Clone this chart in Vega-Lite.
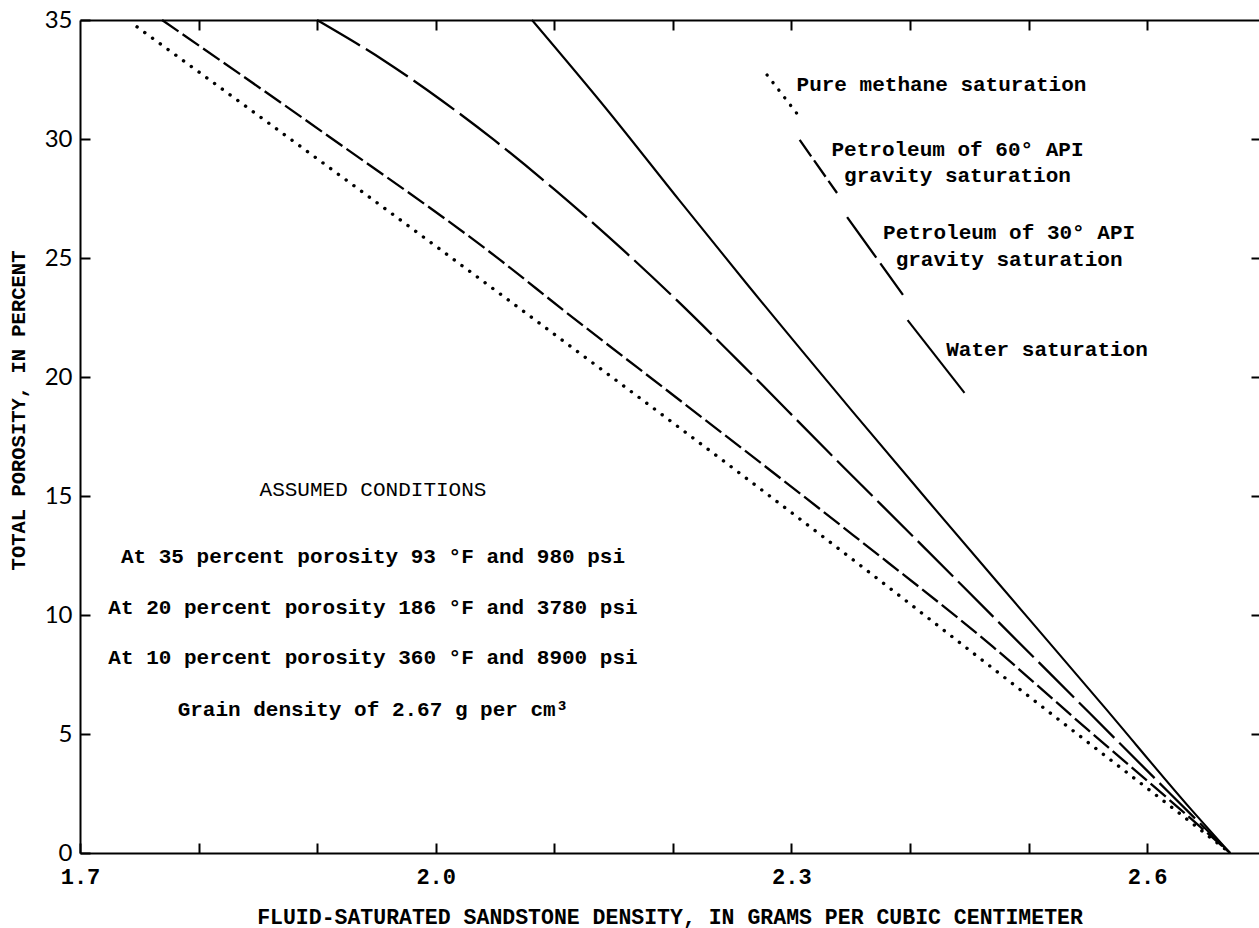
{
  "$schema": "https://vega.github.io/schema/vega-lite/v6.json",
  "width": 1179,
  "height": 833,
  "autosize": {"type": "none"},
  "padding": {"left": 80, "top": 20, "right": 0, "bottom": 75},
  "background": "white",
  "config": {
    "view": {"stroke": null},
    "axis": {"grid": false, "domainColor": "black", "tickColor": "black", "domainWidth": 2, "tickWidth": 2, "labelColor": "black", "titleColor": "black"}
  },
  "datasets": {
    "curves": [
      {"series": "methane", "part": "curve", "density": 1.7481, "porosity": 34.71},
      {"series": "methane", "part": "curve", "density": 1.8670, "porosity": 30.38},
      {"series": "methane", "part": "curve", "density": 1.9783, "porosity": 26.30},
      {"series": "methane", "part": "curve", "density": 2.1099, "porosity": 21.43},
      {"series": "methane", "part": "curve", "density": 2.2002, "porosity": 18.07},
      {"series": "methane", "part": "curve", "density": 2.3554, "porosity": 12.19},
      {"series": "methane", "part": "curve", "density": 2.4608, "porosity": 8.11},
      {"series": "methane", "part": "curve", "density": 2.5553, "porosity": 4.45},
      {"series": "methane", "part": "curve", "density": 2.6236, "porosity": 1.81},
      {"series": "methane", "part": "curve", "density": 2.67, "porosity": 0},
      {"series": "methane", "part": "key", "density": 2.2795, "porosity": 32.69},
      {"series": "methane", "part": "key", "density": 2.307, "porosity": 30.92},
      {"series": "api60", "part": "curve", "density": 1.7692, "porosity": 35},
      {"series": "api60", "part": "curve", "density": 1.9058, "porosity": 30.25},
      {"series": "api60", "part": "curve", "density": 2.0543, "porosity": 24.92},
      {"series": "api60", "part": "curve", "density": 2.1074, "porosity": 22.82},
      {"series": "api60", "part": "curve", "density": 2.2078, "porosity": 18.95},
      {"series": "api60", "part": "curve", "density": 2.3520, "porosity": 13.36},
      {"series": "api60", "part": "curve", "density": 2.4701, "porosity": 8.66},
      {"series": "api60", "part": "curve", "density": 2.5502, "porosity": 5.17},
      {"series": "api60", "part": "curve", "density": 2.6219, "porosity": 2.10},
      {"series": "api60", "part": "curve", "density": 2.67, "porosity": 0},
      {"series": "api60", "part": "key", "density": 2.307, "porosity": 29.96},
      {"series": "api60", "part": "key", "density": 2.3385, "porosity": 27.73},
      {"series": "api30", "part": "curve", "density": 1.8999, "porosity": 35},
      {"series": "api30", "part": "curve", "density": 1.9556, "porosity": 33.32},
      {"series": "api30", "part": "curve", "density": 2.0045, "porosity": 31.64},
      {"series": "api30", "part": "curve", "density": 2.0492, "porosity": 29.96},
      {"series": "api30", "part": "curve", "density": 2.1006, "porosity": 27.86},
      {"series": "api30", "part": "curve", "density": 2.1580, "porosity": 25.34},
      {"series": "api30", "part": "curve", "density": 2.2031, "porosity": 23.24},
      {"series": "api30", "part": "curve", "density": 2.2546, "porosity": 20.71},
      {"series": "api30", "part": "curve", "density": 2.3296, "porosity": 16.93},
      {"series": "api30", "part": "curve", "density": 2.4081, "porosity": 13.03},
      {"series": "api30", "part": "curve", "density": 2.4756, "porosity": 9.66},
      {"series": "api30", "part": "curve", "density": 2.5515, "porosity": 5.88},
      {"series": "api30", "part": "curve", "density": 2.6189, "porosity": 2.52},
      {"series": "api30", "part": "curve", "density": 2.67, "porosity": 0},
      {"series": "api30", "part": "key", "density": 2.347, "porosity": 26.72},
      {"series": "api30", "part": "key", "density": 2.3941, "porosity": 23.45},
      {"series": "water", "part": "curve", "density": 2.0812, "porosity": 35},
      {"series": "water", "part": "curve", "density": 2.1447, "porosity": 31.22},
      {"series": "water", "part": "curve", "density": 2.2052, "porosity": 27.44},
      {"series": "water", "part": "curve", "density": 2.2618, "porosity": 23.95},
      {"series": "water", "part": "curve", "density": 2.3506, "porosity": 18.61},
      {"series": "water", "part": "curve", "density": 2.4146, "porosity": 14.83},
      {"series": "water", "part": "curve", "density": 2.5034, "porosity": 9.66},
      {"series": "water", "part": "curve", "density": 2.5640, "porosity": 6.13},
      {"series": "water", "part": "curve", "density": 2.6375, "porosity": 1.81},
      {"series": "water", "part": "curve", "density": 2.67, "porosity": 0},
      {"series": "water", "part": "key", "density": 2.398, "porosity": 22.39},
      {"series": "water", "part": "key", "density": 2.446, "porosity": 19.33}
    ],
    "notes": [
      {"label": "Pure methane saturation", "x": 2.4266, "y": 32.27, "weight": "bold"},
      {"label": "Petroleum of 60° API", "x": 2.4401, "y": 29.54, "weight": "bold"},
      {"label": "gravity saturation", "x": 2.4401, "y": 28.45, "weight": "bold"},
      {"label": "Petroleum of 30° API", "x": 2.4836, "y": 26.05, "weight": "bold"},
      {"label": "gravity saturation", "x": 2.4836, "y": 24.92, "weight": "bold"},
      {"label": "Water saturation", "x": 2.5156, "y": 21.13, "weight": "bold"},
      {"label": "ASSUMED CONDITIONS", "x": 1.9471, "y": 15.25, "weight": "normal"},
      {"label": "At 35 percent porosity 93 °F and 980 psi", "x": 1.9471, "y": 12.44, "weight": "bold"},
      {"label": "At 20 percent porosity 186 °F and 3780 psi", "x": 1.9471, "y": 10.29, "weight": "bold"},
      {"label": "At 10 percent porosity 360 °F and 8900 psi", "x": 1.9471, "y": 8.19, "weight": "bold"},
      {"label": "Grain density of 2.67 g per cm³", "x": 1.9471, "y": 6.01, "weight": "bold"}
    ]
  },
  "layer": [
    {
      "data": {"name": "curves"},
      "transform": [{"filter": "datum.series == 'methane'"}],
      "mark": {"type": "line", "color": "black", "strokeWidth": 3.4, "strokeDash": [0.1, 9.5], "strokeCap": "round", "interpolate": "monotone"},
      "encoding": {
        "x": {
          "field": "density", "type": "quantitative",
          "scale": {"domain": [1.7, 2.6944], "nice": false, "zero": false},
          "axis": {
            "orient": "bottom",
            "values": [1.7, 1.8, 1.9, 2.0, 2.1, 2.2, 2.3, 2.4, 2.5, 2.6],
            "labelExpr": "datum.value == 1.7 || datum.value == 2 || datum.value == 2.3 || datum.value == 2.6 ? format(datum.value, '.1f') : ''",
            "tickSize": -10,
            "labelPadding": 23,
            "labelFlush": false,
            "labelOverlap": false,
            "labelBaseline": "top",
            "labelFont": "Liberation Mono",
            "labelFontWeight": "bold",
            "labelFontSize": 22,
            "title": "FLUID-SATURATED SANDSTONE DENSITY, IN GRAMS PER CUBIC CENTIMETER",
            "titleFont": "Liberation Mono",
            "titleFontWeight": "bold",
            "titleFontSize": 21.5,
            "titleY": 64,
            "titleBaseline": "middle"
          }
        },
        "y": {
          "field": "porosity", "type": "quantitative",
          "scale": {"domain": [0, 35], "nice": false, "zero": false},
          "axis": {
            "orient": "left",
            "values": [0, 5, 10, 15, 20, 25, 30, 35],
            "tickSize": -10,
            "labelPadding": 18,
            "labelFlush": false,
            "labelOverlap": false,
            "labelFont": "Lato",
            "labelFontSize": 24,
            "title": "TOTAL POROSITY, IN PERCENT",
            "titleFont": "Liberation Mono",
            "titleFontWeight": "bold",
            "titleFontSize": 20.5,
            "titleX": -62,
            "titleY": 390,
            "titleAngle": 270,
            "titleBaseline": "middle"
          }
        },
        "detail": {"field": "part", "type": "nominal"}
      }
    },
    {
      "data": {"name": "curves"},
      "transform": [{"filter": "datum.series == 'api60'"}],
      "mark": {"type": "line", "color": "black", "strokeWidth": 2.3, "strokeDash": [20, 5], "interpolate": "monotone"},
      "encoding": {
        "x": {
          "field": "density", "type": "quantitative",
          "axis": {"orient": "top", "values": [1.8, 1.9, 2.0, 2.1, 2.2, 2.3, 2.4, 2.5, 2.6], "labels": false, "tickSize": -10, "title": null}
        },
        "y": {
          "field": "porosity", "type": "quantitative",
          "axis": {"orient": "right", "values": [5, 10, 15, 20, 25, 30], "labels": false, "domain": false, "tickSize": -8, "title": null}
        },
        "detail": {"field": "part", "type": "nominal"}
      }
    },
    {
      "data": {"name": "curves"},
      "transform": [{"filter": "datum.series == 'api30'"}],
      "mark": {"type": "line", "color": "black", "strokeWidth": 2.3, "strokeDash": [50, 7], "interpolate": "monotone"},
      "encoding": {
        "x": {"field": "density", "type": "quantitative", "axis": null},
        "y": {"field": "porosity", "type": "quantitative", "axis": null},
        "detail": {"field": "part", "type": "nominal"}
      }
    },
    {
      "data": {"name": "curves"},
      "transform": [{"filter": "datum.series == 'water'"}],
      "mark": {"type": "line", "color": "black", "strokeWidth": 2.1, "interpolate": "monotone"},
      "encoding": {
        "x": {"field": "density", "type": "quantitative", "axis": null},
        "y": {"field": "porosity", "type": "quantitative", "axis": null},
        "detail": {"field": "part", "type": "nominal"}
      }
    },
    {
      "data": {"name": "notes"},
      "transform": [{"filter": "datum.weight == 'bold'"}],
      "mark": {"type": "text", "font": "Liberation Mono", "fontWeight": "bold", "fontSize": 21, "align": "center", "baseline": "middle", "color": "black"},
      "encoding": {
        "x": {"field": "x", "type": "quantitative", "axis": null},
        "y": {"field": "y", "type": "quantitative", "axis": null},
        "text": {"field": "label", "type": "nominal"}
      }
    },
    {
      "data": {"name": "notes"},
      "transform": [{"filter": "datum.weight == 'normal'"}],
      "mark": {"type": "text", "font": "Liberation Mono", "fontWeight": "normal", "fontSize": 21, "align": "center", "baseline": "middle", "color": "black"},
      "encoding": {
        "x": {"field": "x", "type": "quantitative", "axis": null},
        "y": {"field": "y", "type": "quantitative", "axis": null},
        "text": {"field": "label", "type": "nominal"}
      }
    }
  ],
  "resolve": {"axis": {"x": "independent", "y": "independent"}}
}
